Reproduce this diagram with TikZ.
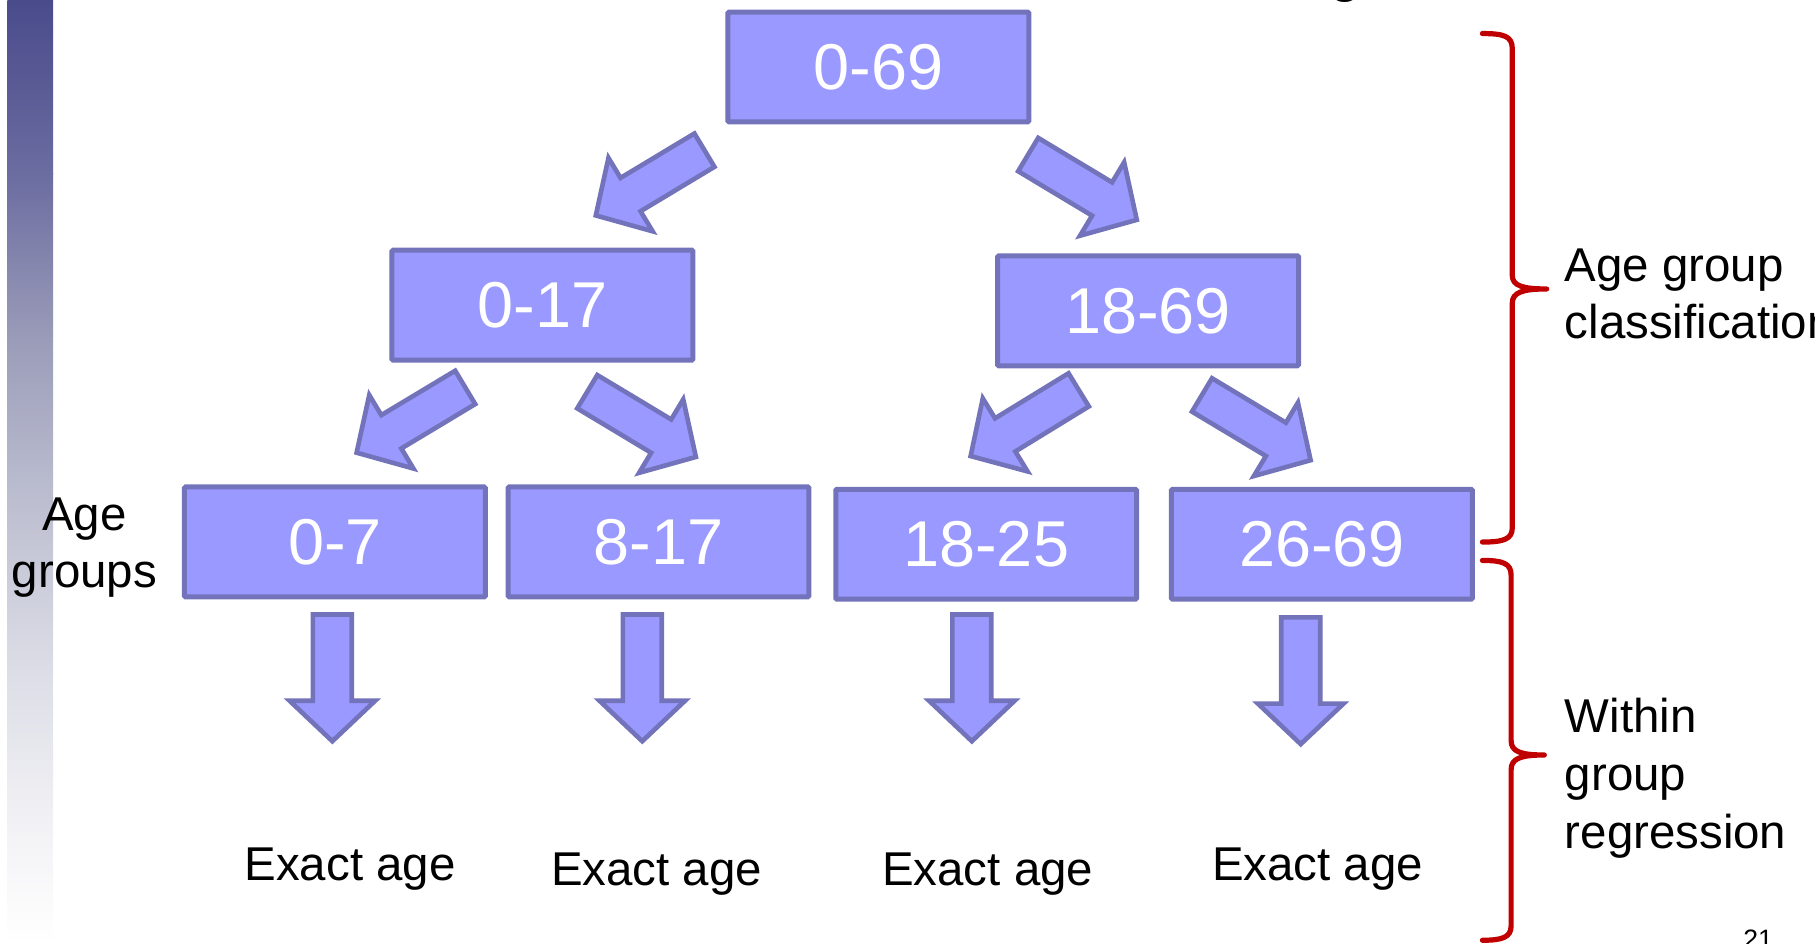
\documentclass[tikz,border=0pt]{standalone}
\usepackage{fontspec}
\setmainfont{Liberation Sans}
\definecolor{boxfill}{HTML}{9999FF}
\definecolor{boxline}{HTML}{7373BB}
\definecolor{bracered}{HTML}{C00000}
\definecolor{barA}{HTML}{4A4B8B}
\definecolor{barB}{HTML}{6B6CA0}
\definecolor{barC}{HTML}{9A9BB8}
\definecolor{barD}{HTML}{BCBED0}
\definecolor{barE}{HTML}{DCDDE6}
\definecolor{barF}{HTML}{F3F3F6}
\begin{document}
\begin{tikzpicture}[x=1pt,y=-1pt,
  agebox/.style={draw=boxline, fill=boxfill, line width=4.3pt, minimum width=260pt,
    minimum height=95pt, inner sep=0pt, text=white, rounded corners=1pt,
    font=\fontsize{56}{60}\selectfont},
  lbl/.style={inner sep=0pt, font=\fontsize{41}{49.6}\selectfont},
  bracestyle/.style={draw=bracered, line width=4.5pt, line cap=round, line join=round},
  blockarrow/.pic={
    \filldraw[draw=boxline, fill=boxfill, line width=4pt]
      (1.5,-16.8) -- (76,-16.8) -- (76,-37) -- (111,0) -- (76,37) -- (76,16.8)
      -- (1.5,16.8) -- cycle;
  }]
\useasboundingbox (0,0) rectangle (1568.4,815);
% left decorative bar
\shade[top color=barA, bottom color=barB] (6.3,0) rectangle (46,150.5);
\shade[top color=barB, bottom color=barC] (6.3,150) rectangle (46,290.5);
\shade[top color=barC, bottom color=barD] (6.3,290) rectangle (46,430.5);
\shade[top color=barD, bottom color=barE] (6.3,430) rectangle (46,580.5);
\shade[top color=barE, bottom color=barF] (6.3,580) rectangle (46,720.5);
\shade[top color=barF, bottom color=white] (6.3,720) rectangle (46,815);
% cut-off title
\node[anchor=base, inner sep=0pt, font=\fontsize{50}{50}\selectfont] (titleg) at (1163,-8.5) {g};
% boxes
\node[agebox] (b069) at (759,57.9) {0-69};
\node[agebox] (b017) at (468.7,263.7) {0-17};
\node[agebox] (b1869) at (992.1,268.6) {18-69};
\node[agebox] (b07) at (289.4,468.3) {0-7};
\node[agebox] (b817) at (569,468.3) {8-17};
\node[agebox] (b1825) at (852.2,470.3) {18-25};
\node[agebox] (b2669) at (1142.3,470.3) {26-69};
% block arrows
\pic[rotate=211] at (610,129) {blockarrow};
\pic[rotate=-31] at (887.2,132.8) {blockarrow};
\pic[rotate=211] at (403.3,334) {blockarrow};
\pic[rotate=-31] at (506.2,337.7) {blockarrow};
\pic[rotate=211.5] at (933.4,336.1) {blockarrow};
\pic[rotate=-31] at (1037.4,340.5) {blockarrow};
\pic[rotate=-90] at (287.2,529.5) {blockarrow};
\pic[rotate=-90] at (555,529.5) {blockarrow};
\pic[rotate=-90] at (839.8,529.5) {blockarrow};
\pic[rotate=-90] at (1124,532) {blockarrow};
% labels
\node[lbl, anchor=base] (e1) at (302.5,761) {Exact age};
\node[lbl, anchor=base] (e2) at (567.4,765) {Exact age};
\node[lbl, anchor=base] (e3) at (853.5,765) {Exact age};
\node[lbl, anchor=base] (e4) at (1138.5,761) {Exact age};
\node[lbl, anchor=north, align=center] (agegroups) at (73,429.7) {Age\\groups};
\node[lbl, anchor=north west, align=left] (classif) at (1352,214.8) {Age group\\classification};
\node[lbl, anchor=north west, align=left, font=\fontsize{41}{50.1}\selectfont] (within) at (1352,603.3) {Within\\group\\regression};
\node[anchor=base, inner sep=0pt, font=\fontsize{23}{23}\selectfont] (pagenum) at (1519.2,819.4) {21};
% braces
\draw[bracestyle] (1281,29) .. controls (1299,29) and (1306.8,31) .. (1306.8,42)
  -- (1306.8,238) .. controls (1306.8,247) and (1316,249.7) .. (1336.5,249.7)
  .. controls (1316,249.7) and (1306.8,252.5) .. (1306.8,262)
  -- (1306.8,456) .. controls (1306.8,466) and (1299,468.4) .. (1281,468.4);
\draw[bracestyle] (1281,484.3) .. controls (1298,484.3) and (1305.8,486.5) .. (1305.8,497)
  -- (1305.8,640) .. controls (1305.8,649.5) and (1314,652.4) .. (1334.5,652.4)
  .. controls (1314,652.4) and (1305.8,655.5) .. (1305.8,665)
  -- (1305.8,800) .. controls (1305.8,810) and (1298,812.5) .. (1281,812.5);
\end{tikzpicture}
\end{document}
